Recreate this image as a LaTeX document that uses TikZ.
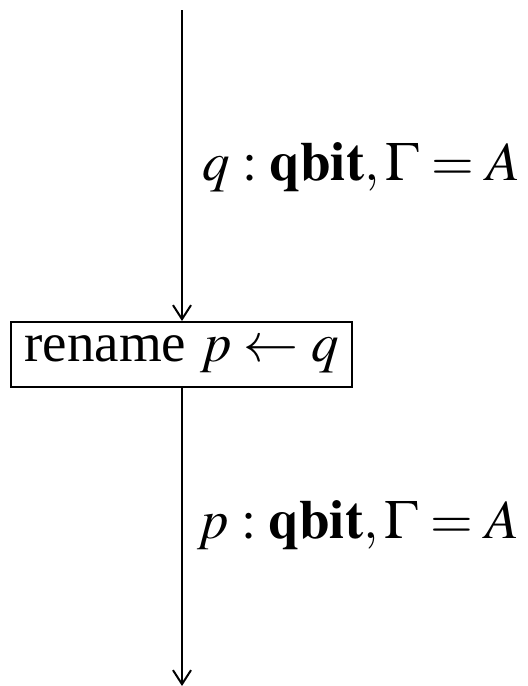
\documentclass[tikz,border=0pt]{standalone}
\usepackage{mathptmx}
\usepackage{fontspec}
\setmainfont{Liberation Serif}
\usetikzlibrary{arrows.meta}
\begin{document}
\begin{tikzpicture}[x=0.5pt,y=-0.5pt,
  every node/.style={font=\fontsize{27.5}{33}\selectfont},
  opbox/.style={draw,line width=1pt,minimum width=170.5pt,minimum height=32.5pt,inner sep=0pt},
  flow/.style={line width=1pt,-{Straight Barb[length=7pt,width=9pt,line width=1pt]}},
  lab/.style={anchor=base west,inner sep=0pt}]
\useasboundingbox (0,0) rectangle (527,686);
\coordinate (top) at (182,10);
\coordinate (bot) at (182,686);
\node[opbox] (ren) at (181.5,354.5) {rename $p \leftarrow q$};
\draw[flow] (top) -- (top |- ren.north);
\draw[flow] (ren.south -| bot) -- (bot);
\node[lab] (l1) at (202,180) {$q : \mathbf{qbit}, \Gamma = A$};
\node[lab] (l2) at (197,538) {$p : \mathbf{qbit}, \Gamma = A$};
\end{tikzpicture}
\end{document}
